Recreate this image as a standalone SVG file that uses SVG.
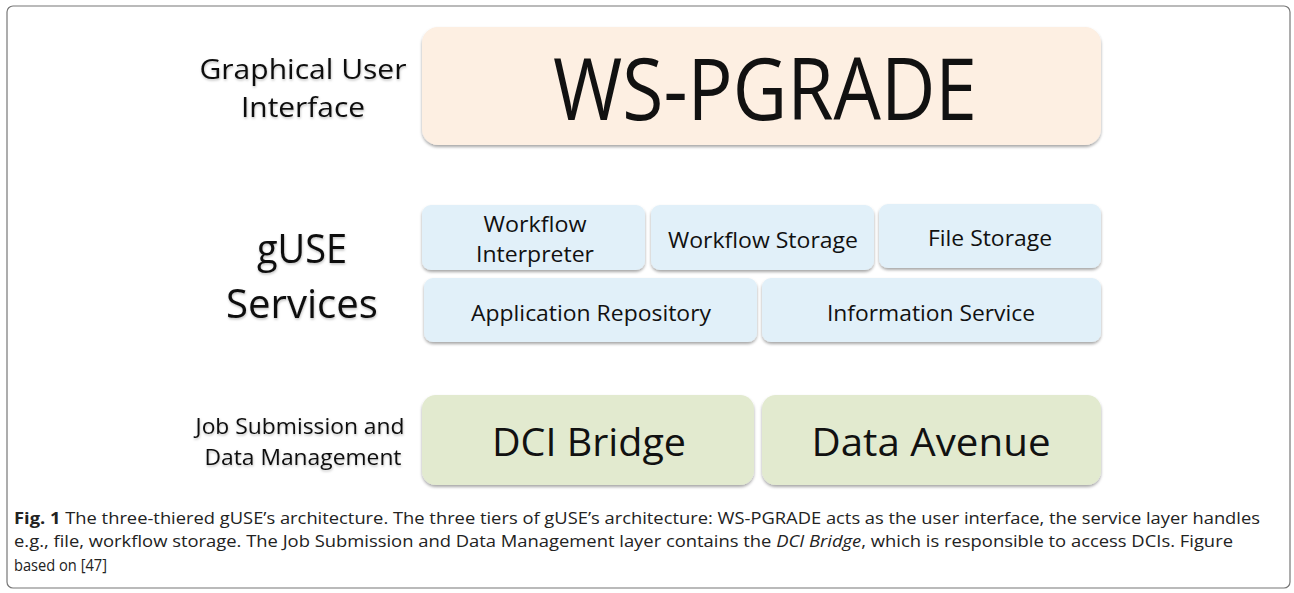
<svg xmlns="http://www.w3.org/2000/svg" width="1294" height="593" viewBox="0 0 1294 593">
<style>
.lbl{font-family:"Open Sans","Noto Sans",sans-serif;fill:#111;text-anchor:middle}
.cap{font-family:"Open Sans","Noto Sans",sans-serif;fill:#222;font-size:16.5px}
.peach{fill:#fdefe2}
.blue{fill:#e1f0f9}
.green{fill:#e2eacf}
</style>
<defs>
<filter id="sh" x="-5%" y="-10%" width="110%" height="125%">
<feDropShadow dx="0" dy="2" stdDeviation="1.5" flood-color="#000" flood-opacity="0.35"/>
</filter>
<filter id="tsh" x="-5%" y="-10%" width="110%" height="130%">
<feDropShadow dx="0.5" dy="1.5" stdDeviation="1" flood-color="#000" flood-opacity="0.25"/>
</filter>
</defs>
<rect x="7" y="6" width="1283" height="582" rx="6" fill="#fff" stroke="#777" stroke-width="1.2"/>

<g id="labels" filter="url(#tsh)">
<text class="lbl" x="303" y="79" font-size="28" textLength="207" lengthAdjust="spacingAndGlyphs">Graphical User</text>
<text class="lbl" x="303" y="117" font-size="28" textLength="124" lengthAdjust="spacingAndGlyphs">Interface</text>
<text class="lbl" x="302" y="263" font-size="40" textLength="90" lengthAdjust="spacingAndGlyphs">gUSE</text>
<text class="lbl" x="302" y="318" font-size="40" textLength="152" lengthAdjust="spacingAndGlyphs">Services</text>
<text class="lbl" x="300" y="434" font-size="22" textLength="209" lengthAdjust="spacingAndGlyphs">Job Submission and</text>
<text class="lbl" x="303" y="465" font-size="22" textLength="197" lengthAdjust="spacingAndGlyphs">Data Management</text>
</g>

<g id="ws-pgrade">
<rect class="peach" x="422" y="27" width="679" height="118" rx="16" filter="url(#sh)"/>
<text class="lbl" x="765" y="120" font-size="86" textLength="424" lengthAdjust="spacingAndGlyphs">WS-PGRADE</text>
</g>

<g id="workflow-interpreter">
<rect class="blue" x="422" y="205" width="223" height="65" rx="9" filter="url(#sh)"/>
<text class="lbl" x="535" y="232" font-size="21" textLength="103" lengthAdjust="spacingAndGlyphs">Workflow</text>
<text class="lbl" x="535" y="262" font-size="21" textLength="118" lengthAdjust="spacingAndGlyphs">Interpreter</text>
</g>
<g id="workflow-storage">
<rect class="blue" x="651" y="205" width="223" height="65" rx="9" filter="url(#sh)"/>
<text class="lbl" x="763" y="248" font-size="21" textLength="190" lengthAdjust="spacingAndGlyphs">Workflow Storage</text>
</g>
<g id="file-storage">
<rect class="blue" x="879" y="204" width="222" height="64" rx="9" filter="url(#sh)"/>
<text class="lbl" x="990" y="246" font-size="21" textLength="124" lengthAdjust="spacingAndGlyphs">File Storage</text>
</g>
<g id="application-repository">
<rect class="blue" x="424" y="278" width="333" height="64" rx="9" filter="url(#sh)"/>
<text class="lbl" x="591" y="321" font-size="21" textLength="240" lengthAdjust="spacingAndGlyphs">Application Repository</text>
</g>
<g id="information-service">
<rect class="blue" x="762" y="278" width="339" height="64" rx="9" filter="url(#sh)"/>
<text class="lbl" x="931" y="321" font-size="21" textLength="208" lengthAdjust="spacingAndGlyphs">Information Service</text>
</g>

<g id="dci-bridge">
<rect class="green" x="422" y="395" width="332" height="90" rx="14" filter="url(#sh)"/>
<text class="lbl" x="589" y="456" font-size="38" textLength="194" lengthAdjust="spacingAndGlyphs">DCI Bridge</text>
</g>
<g id="data-avenue">
<rect class="green" x="762" y="395" width="339" height="90" rx="14" filter="url(#sh)"/>
<text class="lbl" x="931" y="456" font-size="38" textLength="239" lengthAdjust="spacingAndGlyphs">Data Avenue</text>
</g>

<g id="connectors"></g>

<g id="caption">
<text class="cap" x="14" y="524" textLength="1246" lengthAdjust="spacingAndGlyphs"><tspan font-weight="bold">Fig. 1</tspan> The three-thiered gUSE’s architecture. The three tiers of gUSE’s architecture: WS-PGRADE acts as the user interface, the service layer handles</text>
<text class="cap" x="14" y="547" textLength="1219" lengthAdjust="spacingAndGlyphs">e.g., file, workflow storage. The Job Submission and Data Management layer contains the <tspan font-style="italic">DCI Bridge</tspan>, which is responsible to access DCIs. Figure</text>
<text class="cap" x="14" y="571" textLength="93" lengthAdjust="spacingAndGlyphs">based on [47]</text>
</g>
</svg>
